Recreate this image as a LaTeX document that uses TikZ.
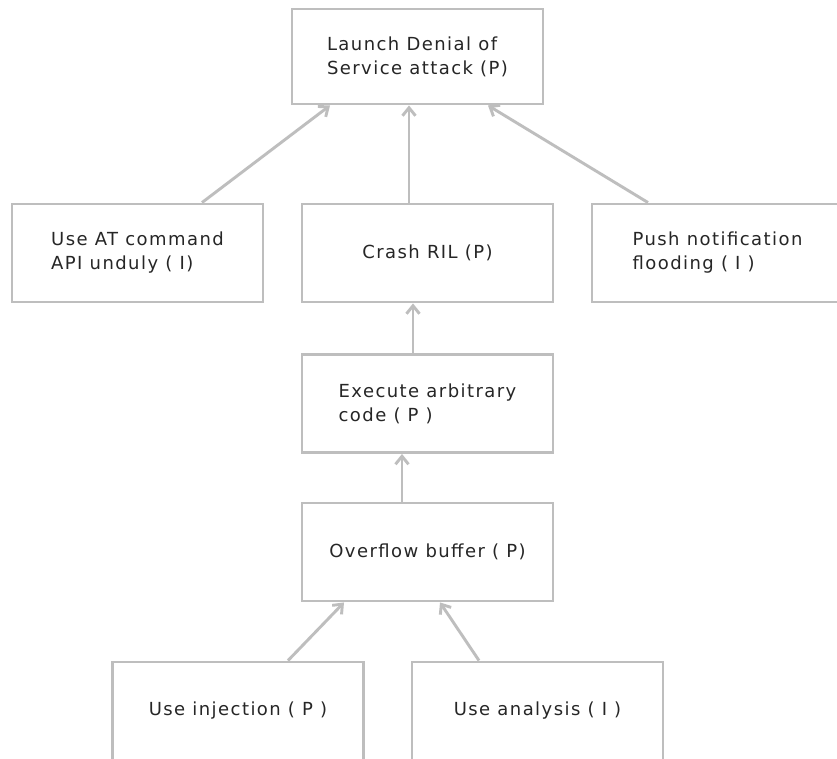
\documentclass[tikz,border=0pt]{standalone}
\usepackage{fontspec}
\setmainfont[LetterSpace=8]{DejaVu Sans}
\usetikzlibrary{arrows.meta}
\definecolor{edgegrey}{RGB}{190,190,190}
\definecolor{inkgrey}{RGB}{38,38,38}
\begin{document}
\begin{tikzpicture}[x=1pt,y=-1pt,
  goal/.style={draw=edgegrey, line width=2.9pt, fill=white,
    minimum width=251pt, minimum height=98pt, inner sep=0pt,
    align=left, text=inkgrey, font=\fontsize{18}{24}\selectfont},
  link/.style={draw=edgegrey, line width=2.9pt,
    -{Straight Barb[length=8pt,width=13pt]}}]
\useasboundingbox (0,0) rectangle (837,758);
\fill[white] (0,0) rectangle (837,758);
\clip (0,0) rectangle (837,758);

% goal boxes
\node[goal, minimum height=95pt] (dos) at (417.5,56.5) {Launch Denial of\\Service attack (P)};
\node[goal] (atcmd) at (137.5,253) {Use AT command\\API unduly ( I)};
\node[goal] (crash) at (427.5,253) {Crash RIL (P)};
\node[goal] (push)  at (717.5,253) {Push notification\\flooding ( I )};
\node[goal] (exec)  at (427.5,403.5) {Execute arbitrary\\code ( P )};
\node[goal] (ovf)   at (427.5,552) {Overflow buffer ( P)};
\node[goal] (inj)   at (238,711) {Use injection ( P )};
\node[goal] (ana)   at (537.5,711) {Use analysis ( I )};

% refinement links
\draw[link] ([xshift=64.5pt]atcmd.north) -- ([xshift=-87.5pt]dos.south);
\draw[link] ([xshift=-18.5pt]crash.north) -- ([xshift=-8.5pt]dos.south);
\draw[link] ([xshift=-69.5pt]push.north) -- ([xshift=70.5pt]dos.south);
\draw[link] ([xshift=-14.5pt]exec.north) -- ([xshift=-14.5pt]crash.south);
\draw[link] ([xshift=-25.5pt]ovf.north) -- ([xshift=-25.5pt]exec.south);
\draw[link] ([xshift=50pt]inj.north) -- ([xshift=-83.5pt]ovf.south);
\draw[link] ([xshift=-58.5pt]ana.north) -- ([xshift=12.5pt]ovf.south);
\end{tikzpicture}
\end{document}
